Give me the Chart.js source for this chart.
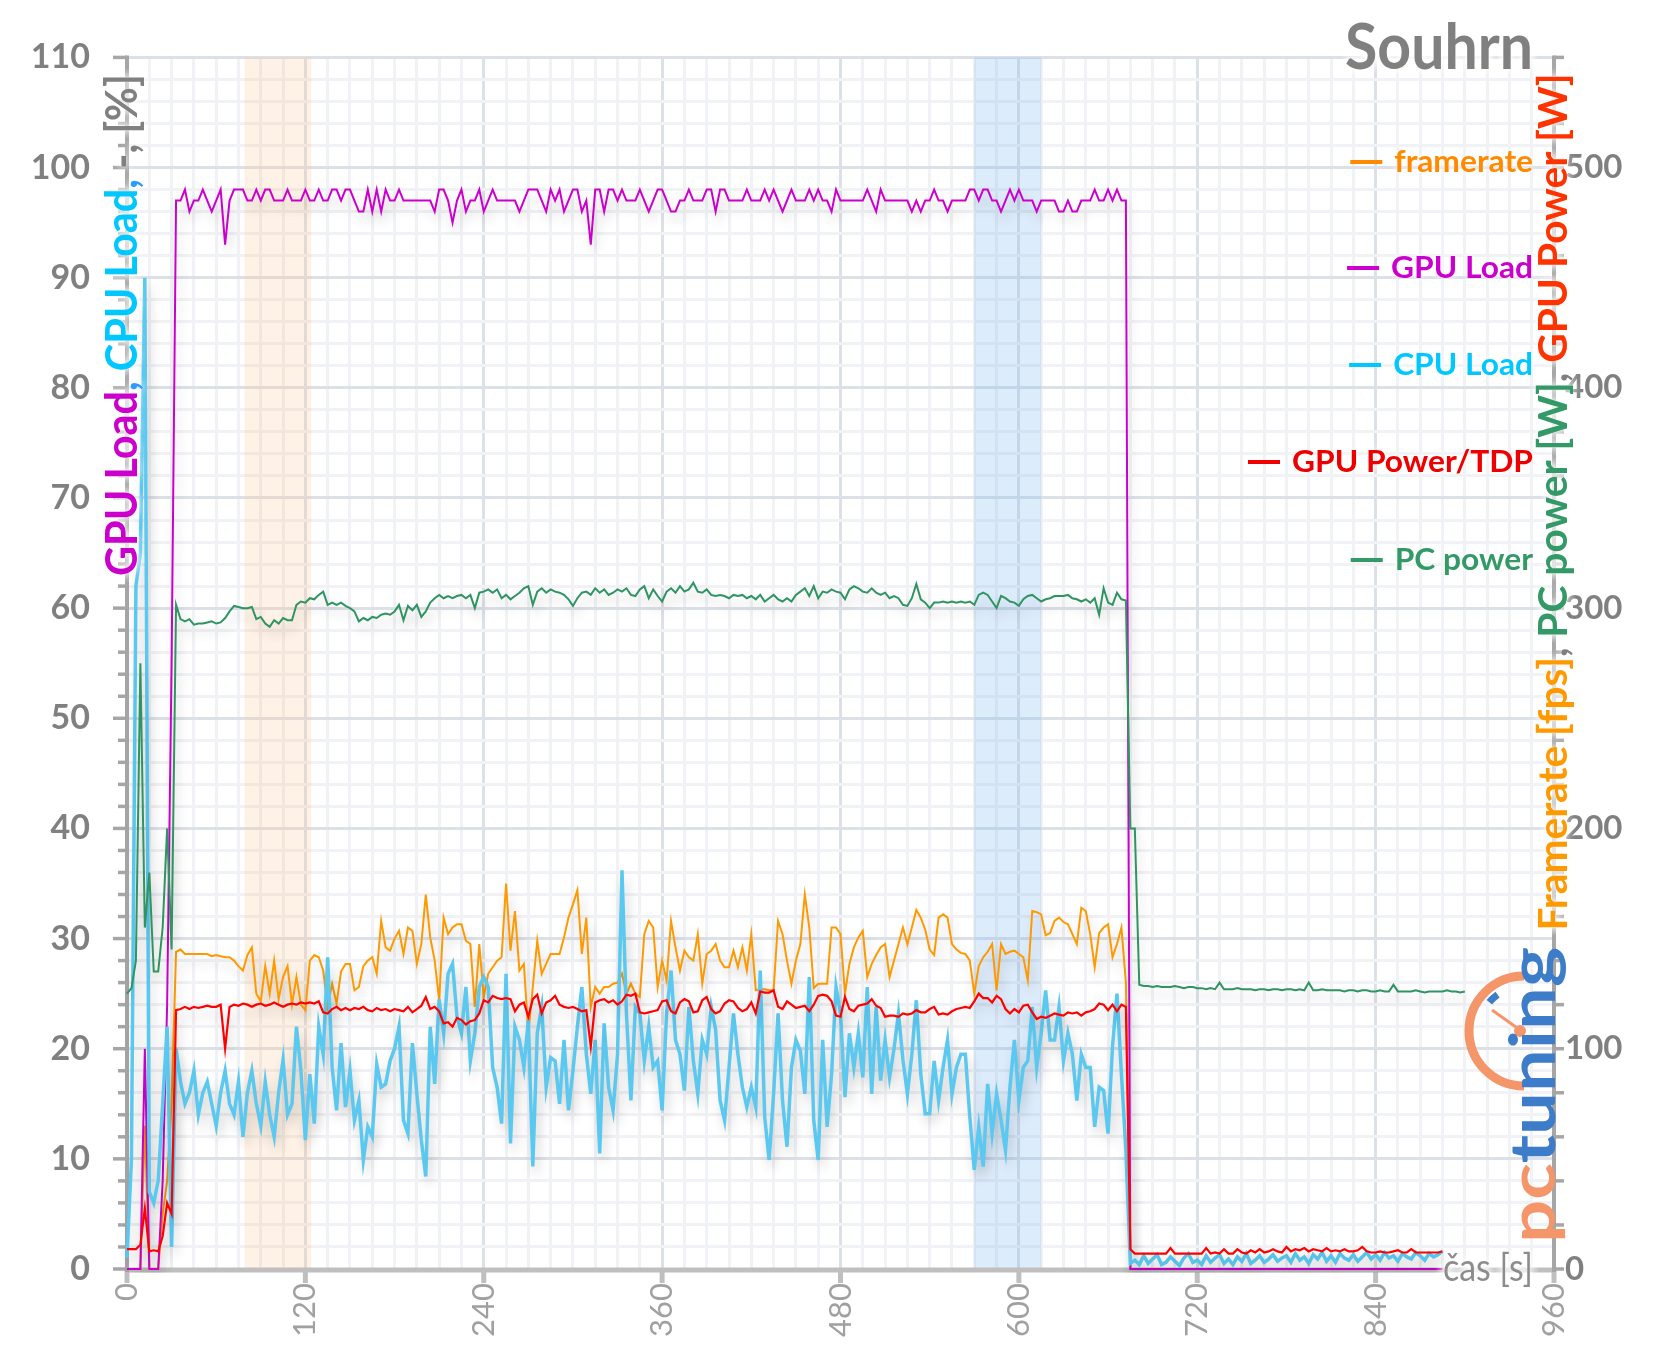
<!DOCTYPE html>
<html><head><meta charset="utf-8">
<style>html,body{margin:0;padding:0;background:#fff;}canvas{display:block;}</style>
<script src="https://cdn.jsdelivr.net/npm/chart.js@4.4.1/dist/chart.umd.min.js"></script>
</head><body>
<canvas id="c" width="1658" height="1361"></canvas>
<script>
// sample times [s], one sample every 3 s
const SAMPLE_STEP = 3;
const time = Array.from({length: 301}, (_, i) => i * SAMPLE_STEP);

// GPU Load [%]
const gpuLoad = [
0,0,0,0,20,0,0,0,8,24,55,97,97,98,96,97,97,98,97,96,
97,98,93,97,98,98,98,97,97,98,97,98,98,97,97,97,98,97,97,97,
98,97,97,98,97,97,98,98,97,98,98,97,96,96,98,96,98,96,98,97,
97,98,97,97,97,97,97,97,97,96,98,98,97,95,97,98,96,97,97,98,
96,97,98,97,97,97,97,97,96,97,98,98,98,97,96,98,97,98,96,97,
98,98,96,97,93,98,98,96,98,98,97,98,97,97,97,98,97,96,97,98,
98,97,96,96,97,97,98,97,97,97,98,98,96,98,98,97,97,97,97,98,
97,97,97,98,97,98,97,96,97,98,97,97,97,98,97,98,97,97,96,98,
97,97,97,97,97,97,98,97,96,98,97,97,97,97,97,97,96,97,96,97,
97,98,97,97,96,97,97,97,97,98,98,97,98,98,97,97,96,97,98,97,
98,97,97,97,96,97,97,97,97,96,96,97,96,96,97,97,97,98,97,97,
98,97,98,97,97,0,0,0,0,0,0,0,0,0,0,0,0,0,0,0,
0,0,0,0,0,0,0,0,0,0,0,0,0,0,0,0,0,0,0,0,
0,0,0,0,0,0,0,0,0,0,0,0,0,0,0,0,0,0,0,0,
0,0,0,0,0,0,0,0,0,0,0,0,0,0,0,0,null,null,null,null,
null];

// CPU Load [%]
const cpuLoad = [
1,10,62,65,90,7,6,8,15,22,2,20,17,15,16,18,14,16,17,15,
13,16,18,15,14,17,12,16,18,15,13,17,14,12,16,19,14,15,22,18,
11.7,17.7,13.2,22,19.5,28.3,18.3,14.4,20.5,14.7,18,13.5,15.3,9.9,12.9,12,18.6,16.5,16.8,18.9,
20,22,13.5,12.3,20.5,15.9,11.7,8.4,22,16.8,24.5,21.4,26.8,27.7,22.9,21.4,25.6,18.9,21.4,25.6,
26.5,25.6,18.3,16.5,13.2,26.8,11.4,22,20.8,18.3,22.6,9.3,21.4,23.8,16.5,19.2,18.9,15,20.8,14.4,
18,22,25.6,19.5,15.9,20.8,10.5,22.3,16.5,14.4,19.5,36.2,23.2,15.3,23.8,23.2,18.9,22,18.3,18.9,
14.4,23.2,27.1,20.8,19.5,16.2,23.8,18.9,15.9,20.8,19.5,23.8,21.7,15.3,13.5,18.3,23.2,19.5,16.5,14.7,
16.5,14.7,27.1,13.8,9.9,15.9,23.2,15.3,11.1,18.3,20.8,19.8,15.9,26.5,13.5,9.9,20.8,12.9,17.7,25.6,
23.2,15.6,21.4,18.3,21.4,17.4,25.6,15.9,23.8,17.1,20.8,17.4,20,23.2,19,15.9,19.5,24.4,17.7,14.1,
14.1,18.9,15.3,18.3,20.8,15.9,18.3,19.5,19.5,13.8,9,12.9,9.3,16.8,12.3,15.9,13.5,10.8,16.5,20.8,
15.3,18.3,18.9,23.8,18.3,21.4,25.3,20.8,20.8,23.8,18.9,21.4,19.5,15.3,19.5,18.3,18.3,12.9,16.5,16.2,
12.3,20.2,25,17.7,10.8,0.5,0.8,0.4,1.2,0.5,0.9,1.3,0.4,0.6,1.1,0.7,0.3,1,1.4,0.6,
0.8,0.4,1.2,0.6,1,1.3,0.5,0.9,0.4,1.1,0.7,1.4,0.5,0.8,1.2,0.6,0.9,1.3,0.7,1,
1.2,0.6,1.4,0.8,1.1,0.5,1.3,0.9,1.5,0.7,1.2,0.6,1.4,1,0.8,1.3,0.7,1.1,1.5,0.9,
1.3,0.8,1.5,1,1.2,0.7,1.4,1.1,0.9,1.5,1.2,0.8,1.4,1.1,1.3,1.6,null,null,null,null,
null];

// framerate [fps]
const framerate = [
0,0,0,0,65,0,0,0,25,40,75,144,145,143,143,143,143,143,143,142,
142.5,142,141.5,141.5,140,137.5,135.5,142.5,146,125,121.5,137.5,125,140,122.5,132.5,137.5,120,132.5,120,
117.5,140,142.5,141.5,135.5,119,129.5,120.5,135,138.5,138.5,126.5,128,137.5,140,141.5,134,158,146,144.5,
150,153.5,143,155,153.5,138.5,147.5,170,150.5,140,122,159.5,152,155,156.5,156.5,149,147.5,119,147.5,
123.5,134,137,140,141.5,175,144.5,162.5,135.5,138.5,107,128,149,134,138.5,143,143,143,150.5,159.5,
165.5,172,143,159.5,119,128,125,128,128,129.5,130,134,125,129.5,125,123.5,152,158,155,128,
140,131,158,146,135.5,144.5,141.5,140,152,129.5,143,144.5,147.5,140,137,137,144.5,137,146,135.5,
152,126.5,127,127,126.5,126.5,158,152,140,129.5,140,147.5,170,155,127.5,129.5,129.5,129.5,155,155,
152,125,138.5,146,150.5,153.5,132.5,138.5,142.5,146,147.5,132.5,140,147.5,155,147.5,155,163,159.5,154,
145,142.5,159.5,161,159.5,147.5,145,143.5,143,140,125,137.5,141.5,144,147.5,126.5,147.5,143,144,144.5,
143,141.5,131,162.5,162,161,151.5,152.5,158,159.5,157.5,156.5,152,147.5,164,162.5,152,137,152.5,155,
156.5,141.5,147.5,155,130,0,0,0,0,0,0,0,0,0,0,0,0,0,0,0,
0,0,0,0,0,0,0,0,0,0,0,0,0,0,0,0,0,0,0,0,
0,0,0,0,0,0,0,0,0,0,0,0,0,0,0,0,0,0,0,0,
0,0,0,0,0,0,0,0,0,0,0,0,0,0,0,0,null,null,null,null,
null];

// GPU Power [W]
const gpuPower = [
9,9,9,11,27.5,8,8.5,8,15,30,25,117.5,118,119,118,119,118.5,119,119.5,119,
119,120,100,119,120,119.5,120.5,120,119,120,120.5,119.5,120,121,120,119,120,120.5,120,121,
120.5,121,120.5,121.5,116.5,116,118,119,117.5,118.5,117.5,118.5,118,119,117.5,117,118.5,117.5,118,117,
118,117.5,117,119,116.5,118,119.5,123.5,118,119,117,111.5,112,110,114,113,111,112.5,113,116,
122,121,124,123,122.5,123,122.5,117,120,121,114.5,122.5,124.5,116,121,122,124,120,119,118.5,
119,118,117,117.5,101,121,122,122.5,121,122,120,121.5,124.5,124,125,116.5,116,116.5,117,117.5,
121.5,122,117,116,121,122.5,121.5,116.5,117,122,123.5,118,116,117,120.5,122,121.5,118.5,117,118,
121,116,126,125.5,125.5,126.5,119,118,121.5,120,118.5,119,119.5,117,120,124,124.5,124,121.5,115,
114.5,123.5,118,117,119.5,120,120.5,122.5,119.5,118.5,114.5,115,115,114.5,116,115.5,116,117.5,116.5,116.5,
118,119,115.5,116,115.5,117,118,118.5,119,118.5,121.5,125,123,123,121,124,122.5,118,116,118,
116.5,119.5,120,116.5,113.5,114.5,114,115,116,115.5,115,116.5,116,116.5,115,116.5,117,118,120.5,120,
117.5,120,117,120,119,9,7,7,7,7,7,7,7,7,9.5,7,7,7,7,7,
7,7,9.5,7,7.5,7,9,7,7,9,7.5,7,8.5,7.5,9,7.5,8,9,8,7.5,
10,8,9,8.5,9.5,8,9,8.5,8,9.5,8,8.5,8,9,8,8,8.5,10,8,7.5,
7.5,8,7.5,7.5,8,8.5,7.5,7.5,9,7.5,7.5,7.5,7.5,7.5,7.5,8,null,null,null,null,
null];

// PC power [W]
const pcPower = [
125,127.5,140,275,155,180,135,135,155,200,145,301.5,295,294,295,292.5,293,293,293.5,294,
293,293.5,295.5,298.5,301,300.5,300,300,300.5,295,296,293,291.5,294.5,293,295.5,294.5,294.5,301.5,303,
302.5,304.5,304,306,307.5,301.5,302.5,301.5,302.5,301,300,298.5,294,295.5,294.5,296,295.5,297,297.5,297,
298.5,301.5,294.5,301,299,301.5,296,298.5,302.5,304.5,306,304.5,305.5,304.5,305.5,306,304.5,306,300,307,
307.5,308.5,307,308.5,304.5,306,304,305.5,307,309,310,301.5,307.5,309,307,308.5,307.5,307,306,304,
301,304.5,307,307.5,306,309,307,308.5,306,307,308.5,307.5,309,306,305.5,308.5,310,304.5,308.5,305.5,
303,307.5,309,307,310,307.5,308.5,311.5,307.5,307,308.5,306,305.5,306,305.5,304.5,306,305.5,306,304.5,
305.5,304,306,303,304.5,306,304,303,304.5,303,306,307.5,309,305.5,310,304.5,307.5,307,308.5,307.5,
307,304,308.5,310,309,307.5,307,309,307,306,307,304.5,305.5,304.5,301.5,301,304.5,311,304,302.5,
300,302.5,302.5,303,302.5,303,302.5,303,302.5,303,301.5,306,307,306,303,300,305.5,304.5,303,302.5,
301,304,305.5,306,304.5,303,304,304.5,305.5,305.5,305.5,306,304.5,304,303,304,302.5,304.5,297,309,
302.5,301.5,307,304,303.5,200,200,129,128.5,128.5,128,128.5,128,128,128,128.5,128,127.5,128,128,
127.5,127.5,127,127.5,127,130,127,127,127,127.5,127,127,127,126.5,127,127,126.5,127,127,126.5,
127,127,126.5,127,126.5,130,126.5,126.5,127,126.5,126.5,126.5,126.5,126,126.5,126.5,126,126.5,126.5,126,
126,126.5,126,126,129,126,126,126,126,126.5,126,125.5,126,126,126,126,126.5,126,126,125.5,
126];

// axis labels
const xTickLabels = [0,120,240,360,480,600,720,840,960];
const yLeftTickLabels = [0,10,20,30,40,50,60,70,80,90,100,110];
const yRightTickLabels = [0,100,200,300,400,500];
// highlighted time ranges [s]
const highlightRanges = [[79,124],[570,615]];

const FONT = 'Lato, "Open Sans", "DejaVu Sans", sans-serif';
const GRID_MAJOR = '#DCE0E7';
const GRID_MINOR = '#F1F2F5';
const pts = arr => time.map((t, i) => ({x: t, y: arr[i]}));

// draws text (possibly multi-coloured) at a given font size, squeezed along its direction to a target length
function drawFitted(ctx, segs, opts) {
  // opts: x, y, rot, size, weight, len, align ('left'|'right'|'center'), baseline, glow
  const full = segs.map(s => s.t).join('');
  ctx.save();
  ctx.font = opts.weight + ' ' + opts.size + 'px ' + FONT;
  const w = ctx.measureText(full).width;
  const k = opts.len ? opts.len / w : 1;
  ctx.translate(opts.x, opts.y);
  if (opts.rot) ctx.rotate(opts.rot);
  ctx.scale(k, 1);
  ctx.textAlign = 'left';
  ctx.textBaseline = opts.baseline || 'alphabetic';
  let start = opts.align === 'right' ? -w : (opts.align === 'center' ? -w / 2 : 0);
  if (opts.glow) {
    ctx.save();
    ctx.shadowColor = '#ffffff'; ctx.shadowBlur = 10; ctx.fillStyle = '#ffffff';
    for (let i = 0; i < opts.glow; i++) ctx.fillText(full, start, 0);
    ctx.restore();
  }
  let x = start;
  segs.forEach(s => { ctx.fillStyle = s.c; ctx.fillText(s.t, x, 0); x += ctx.measureText(s.t).width; });
  ctx.restore();
  return w * k;
}

const shadowPlugin = {
  id: 'lineShadow',
  beforeDatasetDraw(chart) {
    const c = chart.ctx; c.save();
    c.shadowColor = 'rgba(0,0,0,0.2)'; c.shadowBlur = 12; c.shadowOffsetX = 3; c.shadowOffsetY = 8;
  },
  afterDatasetDraw(chart) { chart.ctx.restore(); }
};

const bandsAndAxes = {
  id: 'bandsAndAxes',
  beforeDatasetsDraw(chart) {
    const ctx = chart.ctx, ca = chart.chartArea, xs = chart.scales.x, yl = chart.scales.y, yr = chart.scales.y2;
    ctx.save();
    const colors = ['rgba(250,200,150,0.25)', 'rgba(120,180,240,0.25)'];
    highlightRanges.forEach((r, i) => {
      const a = xs.getPixelForValue(r[0]), b = xs.getPixelForValue(r[1]);
      ctx.fillStyle = colors[i];
      ctx.fillRect(a, ca.top, b - a, ca.bottom - ca.top);
    });
    const line = (x1, y1, x2, y2) => { ctx.beginPath(); ctx.moveTo(x1, y1); ctx.lineTo(x2, y2); ctx.stroke(); };
    // bottom axis
    ctx.strokeStyle = '#BFBFBF'; ctx.lineWidth = 5; ctx.lineCap = 'butt';
    line(ca.left - 2, ca.bottom + 1, ca.right, ca.bottom + 1);
    xs.ticks.forEach(t => { if (xTickLabels.includes(t.value)) { const p = xs.getPixelForValue(t.value); line(p, ca.bottom, p, ca.bottom + 14); } });
    // left axis
    ctx.strokeStyle = '#A6A6A6'; ctx.lineWidth = 4;
    line(ca.left, ca.top - 2, ca.left, ca.bottom + 3);
    ctx.lineWidth = 3.5;
    yl.ticks.forEach(t => { const p = yl.getPixelForValue(t.value); const len = (t.value % 10 === 0) ? 14 : 9; line(ca.left - len, p, ca.left, p); });
    // right axis
    ctx.strokeStyle = '#A6A6A6'; ctx.lineWidth = 4;
    line(ca.right, ca.top - 2, ca.right, ca.bottom + 3);
    ctx.lineWidth = 3.5;
    yr.ticks.forEach(t => { const p = yr.getPixelForValue(t.value); line(ca.right, p, ca.right + 10, p); });
    ctx.restore();
  }
};

const overlay = {
  id: 'overlay',
  afterDatasetsDraw(chart) {
    const ctx = chart.ctx;
    ctx.save();
    // logo gauge
    ctx.lineCap = 'butt';
    ctx.strokeStyle = '#F4956A'; ctx.lineWidth = 9;
    ctx.beginPath(); ctx.arc(1524, 1031, 55, Math.PI / 2, Math.PI * 1.5); ctx.stroke();
    ctx.strokeStyle = '#3D7CC9'; ctx.lineWidth = 7;
    ctx.beginPath(); ctx.arc(1524, 1031, 45, Math.PI * 1.22, Math.PI * 1.3); ctx.stroke();
    ctx.strokeStyle = '#F4956A'; ctx.lineWidth = 3;
    ctx.beginPath(); ctx.moveTo(1520, 1030); ctx.lineTo(1492, 1010); ctx.stroke();
    ctx.fillStyle = '#F4956A'; ctx.beginPath(); ctx.arc(1520, 1031, 6, 0, Math.PI * 2); ctx.fill();
    // logo text
    drawFitted(ctx, [{t: 'pc', c: '#F4956A'}, {t: 'tuning', c: '#3D7CC9'}],
      {x: 1555, y: 1243, rot: -Math.PI / 2, size: 64, weight: 'bold', len: 296, align: 'left'});
    // left axis title
    drawFitted(ctx, [
      {t: 'GPU Load', c: '#CC00CC'}, {t: ', ', c: '#2E9BFF'},
      {t: 'CPU Load', c: '#00C8FF'}, {t: ', ', c: '#2E9BFF'},
      {t: '-, [%]', c: '#808080'}],
      {x: 137, y: 325, rot: -Math.PI / 2, size: 44, weight: 'bold', len: 502, align: 'center', glow: 2});
    // right axis title
    drawFitted(ctx, [
      {t: 'Framerate [fps]', c: '#FF9900'}, {t: ', ', c: '#808080'},
      {t: 'PC power [W]', c: '#339966'}, {t: ', ', c: '#808080'},
      {t: 'GPU Power [W]', c: '#FF3300'}],
      {x: 1567, y: 502, rot: -Math.PI / 2, size: 40, weight: 'bold', len: 857, align: 'center', glow: 2});
    // title
    drawFitted(ctx, [{t: 'Souhrn', c: '#808080'}],
      {x: 1533, y: 69, size: 64, weight: 'bold', len: 188, align: 'right', glow: 3});
    // legend
    {
      const items = [
        {t: 'framerate', c: '#FF8A00', y: 162},
        {t: 'GPU Load', c: '#CC00CC', y: 268},
        {t: 'CPU Load', c: '#00C8FF', y: 365},
        {t: 'GPU Power/TDP', c: '#EE0000', y: 462},
        {t: 'PC power', c: '#339966', y: 560}];
      const size = 30;
      ctx.font = 'bold ' + size + 'px ' + FONT;
      const k = 241 / ctx.measureText('GPU Power/TDP').width;
      items.forEach(it => {
        const w = ctx.measureText(it.t).width * k;
        drawFitted(ctx, [{t: it.t, c: it.c}], {x: 1533, y: it.y, size: size, weight: 'bold', len: w, align: 'right', baseline: 'middle', glow: 1});
        ctx.strokeStyle = it.c; ctx.lineWidth = 4;
        ctx.beginPath(); ctx.moveTo(1533 - w - 44, it.y); ctx.lineTo(1533 - w - 12, it.y); ctx.stroke();
        ctx.font = 'bold ' + size + 'px ' + FONT;
      });
    }
    // x axis name
    drawFitted(ctx, [{t: 'čas [s]', c: '#8C8C8C'}],
      {x: 1533, y: 1269, size: 38, weight: 'normal', len: 90, align: 'right', baseline: 'middle', glow: 4});
    ctx.restore();
  }
};

new Chart(document.getElementById('c'), {
  type: 'line',
  data: {
    datasets: [
      {label: 'framerate', data: pts(framerate), yAxisID: 'y2', borderColor: '#FF9900', borderWidth: 2, order: 5},
      {label: 'GPU Load', data: pts(gpuLoad), yAxisID: 'y', borderColor: '#CC00CC', borderWidth: 2, order: 4},
      {label: 'CPU Load', data: pts(cpuLoad), yAxisID: 'y', borderColor: '#5BC8F0', borderWidth: 3.5, order: 3},
      {label: 'GPU Power/TDP', data: pts(gpuPower), yAxisID: 'y2', borderColor: '#FF0000', borderWidth: 2.2, order: 2},
      {label: 'PC power', data: pts(pcPower), yAxisID: 'y2', borderColor: '#2F9462', borderWidth: 2, order: 1}
    ]
  },
  options: {
    responsive: false, animation: false,
    layout: {padding: {top: 55, left: 0, right: 0, bottom: 0}},
    elements: {point: {radius: 0}, line: {tension: 0, fill: false}},
    datasets: {line: {clip: 4, spanGaps: false}},
    plugins: {legend: {display: false}, tooltip: {enabled: false}},
    scales: {
      x: {
        type: 'linear', min: 0, max: 960, position: 'bottom',
        afterFit: s => { s.height = 92; },
        ticks: {stepSize: 15, autoSkip: false, minRotation: 90, maxRotation: 90, padding: 14,
          callback: v => xTickLabels.includes(v) ? String(v) : '',
          color: '#A0A0A0', font: {family: FONT, size: 31}},
        grid: {color: c => (c.tick && c.tick.value % 120 === 0) ? GRID_MAJOR : GRID_MINOR, lineWidth: 3, drawTicks: false},
        border: {display: false}
      },
      y: {
        type: 'linear', min: 0, max: 110, position: 'left',
        afterFit: s => { s.width = 127; },
        ticks: {stepSize: 2, autoSkip: false, padding: 37,
          callback: v => yLeftTickLabels.includes(v) ? String(v) : '',
          color: '#808080', font: {family: FONT, size: 34, weight: 'bold'}},
        grid: {color: c => (c.tick && c.tick.value % 10 === 0) ? GRID_MAJOR : GRID_MINOR, lineWidth: 3, drawTicks: false},
        border: {display: false}
      },
      y2: {
        type: 'linear', min: 0, max: 550, position: 'right',
        afterFit: s => { s.width = 104; },
        ticks: {stepSize: 20, autoSkip: false, padding: 11,
          callback: v => yRightTickLabels.includes(v) ? String(v) : '',
          color: '#808080', font: {family: FONT, size: 33, weight: 'bold'}},
        grid: {display: false, drawTicks: false},
        border: {display: false}
      }
    }
  },
  plugins: [shadowPlugin, bandsAndAxes, overlay]
});
</script>
</body></html>
